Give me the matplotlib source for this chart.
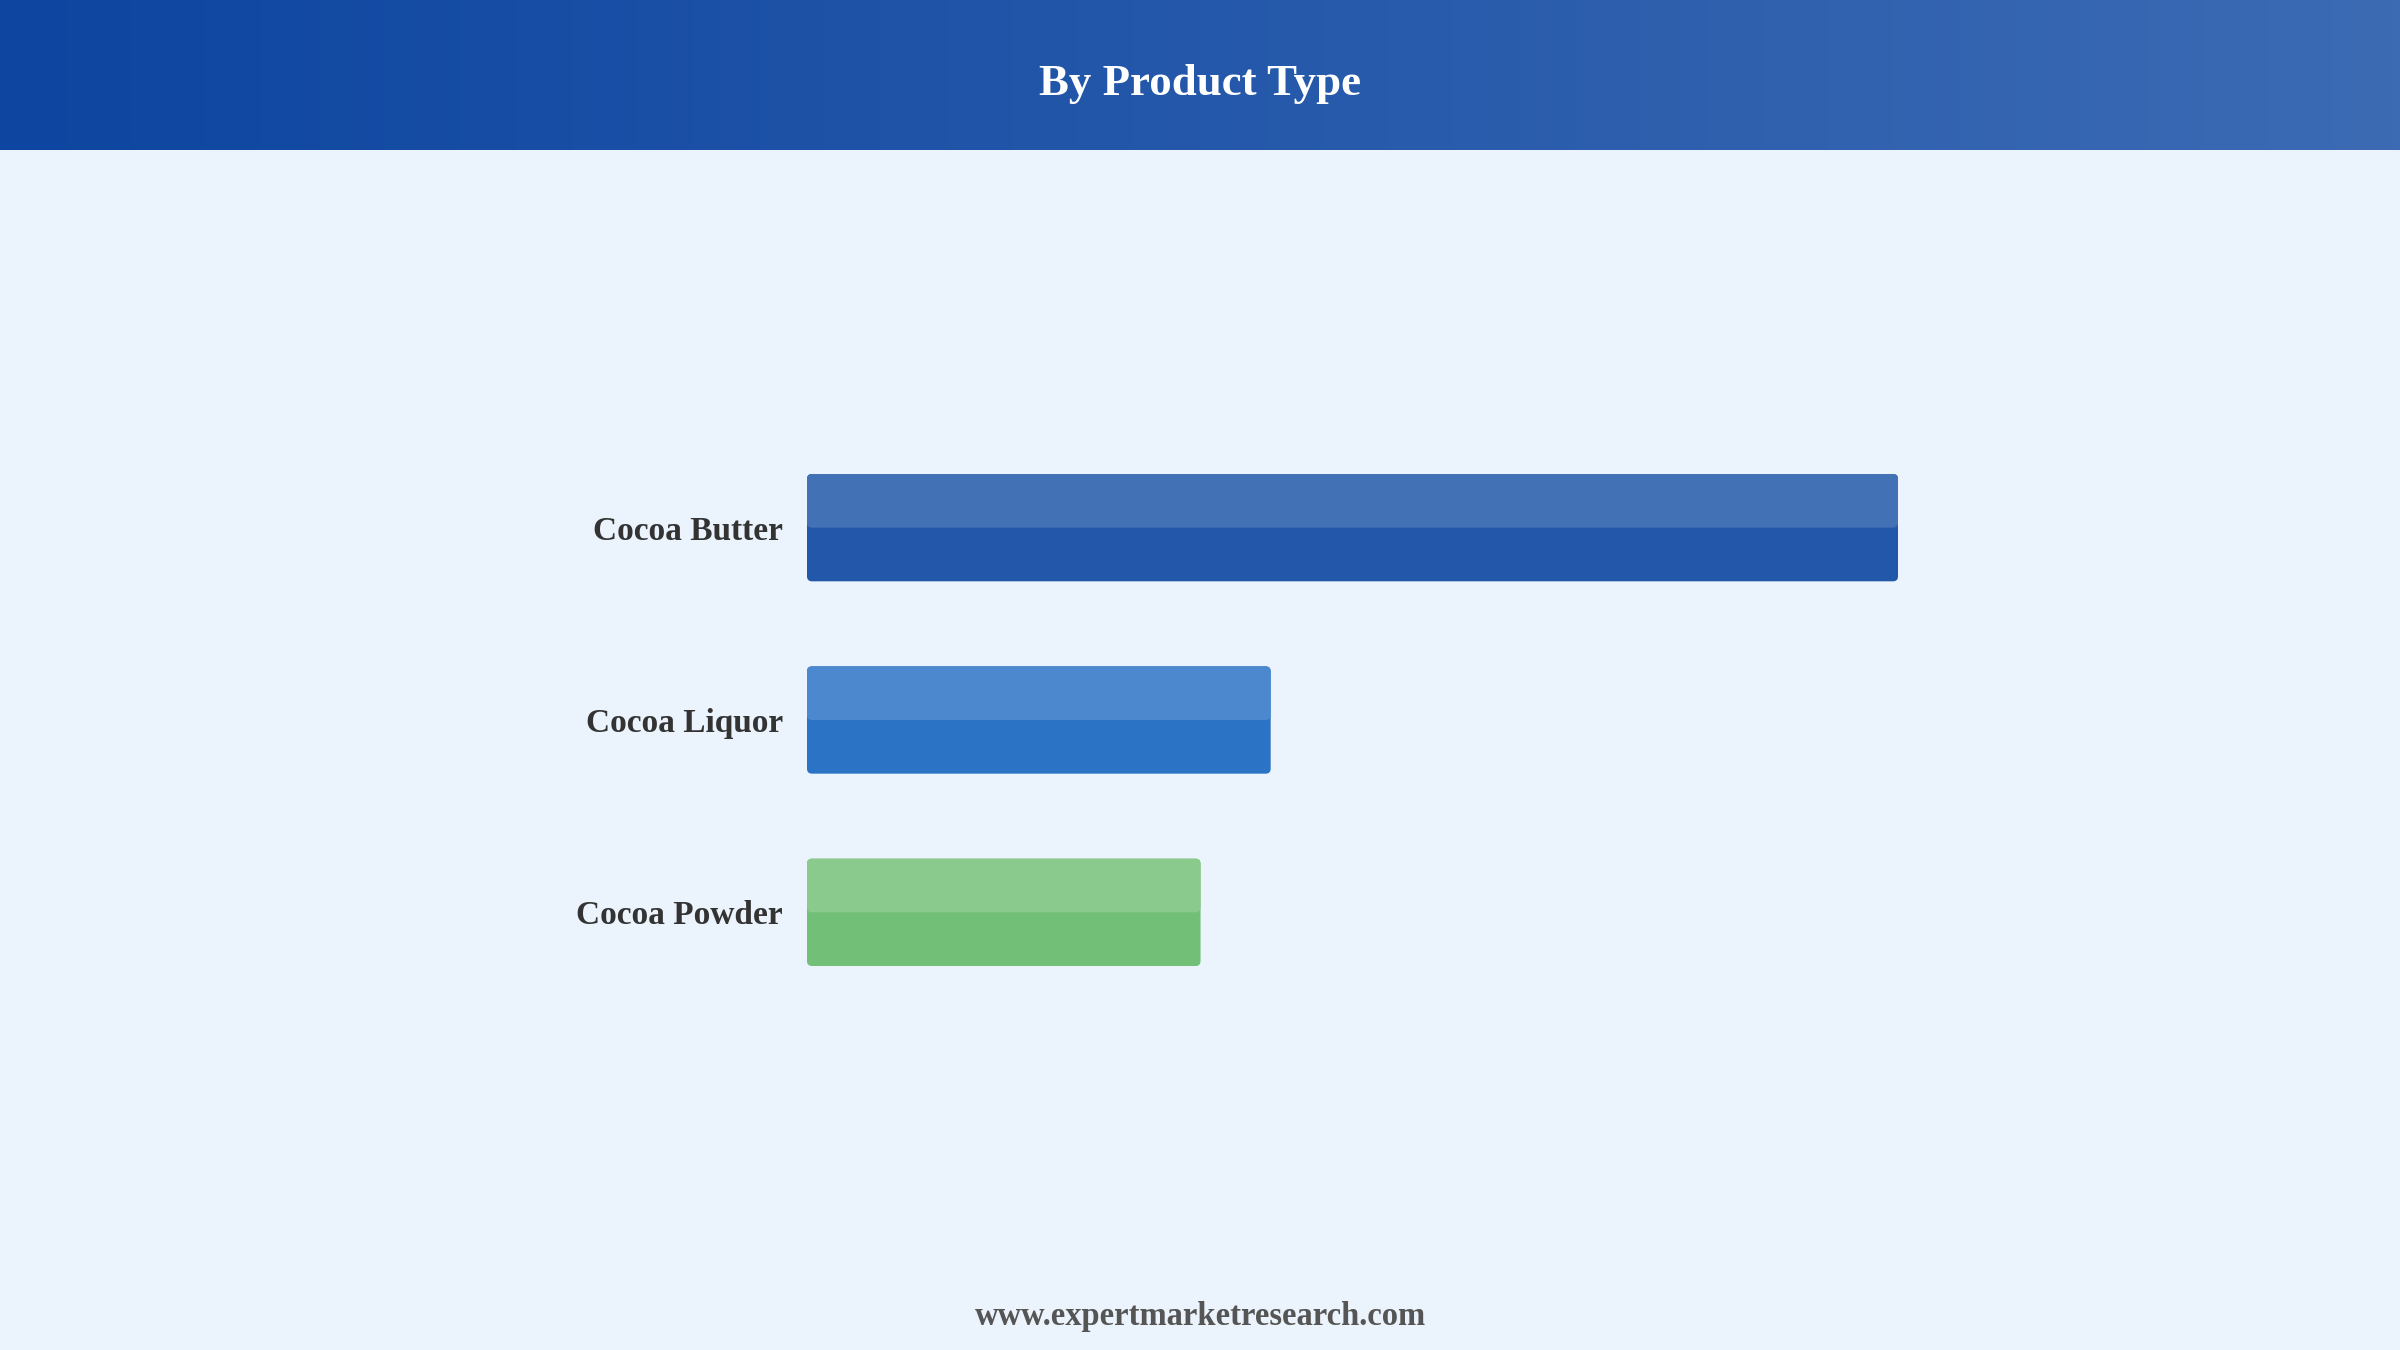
import numpy as np
import matplotlib
matplotlib.use("Agg")
from matplotlib import pyplot as plt
from matplotlib.patches import FancyBboxPatch
from matplotlib.colors import LinearSegmentedColormap

# data (share of market)
categories = ["Cocoa Butter", "Cocoa Liquor", "Cocoa Powder"]
values = [56, 23.8, 20.2]
dark_colors = ["#2357AA", "#2B73C4", "#72BF78"]
light_colors = ["#4271B5", "#4C88CD", "#8ACA8C"]

W, H = 2400, 1350
bg = "#EBF3FC"

fig = plt.figure(figsize=(24, 13.5), dpi=100)
fig.patch.set_facecolor(bg)

# header band with gradient
hdr = fig.add_axes([0, 1 - 150 / H, 1, 150 / H])
cmap = LinearSegmentedColormap.from_list("hdr", ["#0D45A0", "#3C6BB4"])
hdr.imshow(np.linspace(0, 1, 256).reshape(1, -1), aspect="auto", cmap=cmap,
           extent=[0, 1, 0, 1])
hdr.set_xlim(0, 1)
hdr.set_ylim(0, 1)
hdr.axis("off")
fig.text(0.5, 1 - 84 / H, "By Product Type", ha="center", va="center",
         color="white", fontsize=32.3, fontweight="bold", family="Liberation Serif")

# bar axes
left_px, right_px = 807, 1898
top_px, bot_px = 474, 966
ax = fig.add_axes([left_px / W, 1 - bot_px / H, (right_px - left_px) / W, (bot_px - top_px) / H])
ax.set_facecolor(bg)
ax.set_xlim(0, max(values))
n = len(categories)
bar_h = 0.558
ax.set_ylim(n - 1 + bar_h / 2, -bar_h / 2)

x_per_px = max(values) / (right_px - left_px)
y_per_px = (n - 1 + bar_h) / (bot_px - top_px)
aspect = y_per_px / x_per_px
r = 5 * x_per_px

for i, (v, dc, lc) in enumerate(zip(values, dark_colors, light_colors)):
    y0 = i - bar_h / 2
    ax.add_patch(FancyBboxPatch((0, y0), v, bar_h,
                                boxstyle=f"round,pad=0,rounding_size={r}",
                                mutation_aspect=aspect, fc=dc, ec="none"))
    ax.add_patch(FancyBboxPatch((0, y0), v, bar_h / 2,
                                boxstyle=f"round,pad=0,rounding_size={r}",
                                mutation_aspect=aspect, fc=lc, ec="none"))

ax.set_yticks(range(n))
ax.set_yticklabels(categories, family="Liberation Serif", fontweight="bold",
                   fontsize=24, color="#333333")
ax.tick_params(axis="y", length=0, pad=17.5)
ax.set_xticks([])
for s in ax.spines.values():
    s.set_visible(False)

fig.text(0.5, 1 - 1316 / H, "www.expertmarketresearch.com", ha="center", va="center",
         color="#555555", fontsize=23.5, fontweight="bold", family="Liberation Serif")

fig.savefig("out.png", dpi=100, facecolor=bg)
